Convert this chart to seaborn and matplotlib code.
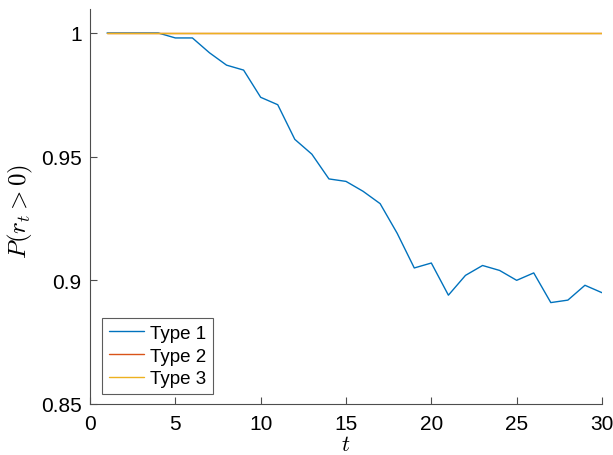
import numpy as np
import pandas as pd
import matplotlib
matplotlib.use("Agg")
import matplotlib.pyplot as plt
import seaborn as sns

t = list(range(1, 31))
type1 = [1.0, 1.0, 1.0, 1.0, 0.998, 0.998, 0.992, 0.987, 0.985, 0.974,
         0.971, 0.957, 0.951, 0.941, 0.940, 0.936, 0.931, 0.919, 0.905, 0.907,
         0.894, 0.902, 0.906, 0.904, 0.900, 0.903, 0.891, 0.892, 0.898, 0.895]
type2 = [1.0] * 30
type3 = [1.0] * 30
series_names = ["Type 1", "Type 2", "Type 3"]
colors = ["#0072BD", "#D95319", "#EDB120"]
xticks = [0, 5, 10, 15, 20, 25, 30]
yticks = [0.85, 0.9, 0.95, 1.0]
ytick_labels = ["0.85", "0.9", "0.95", "1"]

df = pd.DataFrame({
    "t": t * 3,
    "p": type1 + type2 + type3,
    "type": [n for n in series_names for _ in t],
})

sns.set_theme(style="white")
plt.rcParams["font.family"] = ["Liberation Sans", "DejaVu Sans"]
plt.rcParams["mathtext.fontset"] = "cm"
plt.rcParams["text.color"] = "black"

fig = plt.figure(figsize=(6.13, 4.56), dpi=100)
ax = fig.add_axes([90 / 613, 1 - 405 / 456, 512 / 613, 395 / 456])

sns.lineplot(data=df, x="t", y="p", hue="type", hue_order=series_names,
             palette=colors, linewidth=1.0, ax=ax)

ax.set_xlim(0, 30)
ax.set_ylim(0.85, 1.0097)
ax.set_xticks(xticks)
ax.set_xticklabels([str(v) for v in xticks])
ax.set_yticks(yticks)
ax.set_yticklabels(ytick_labels)

for side in ["top", "right"]:
    ax.spines[side].set_visible(False)
for side in ["left", "bottom"]:
    ax.spines[side].set_color("#4d4d4d")
    ax.spines[side].set_linewidth(0.8)
ax.tick_params(direction="in", length=5, width=0.8, color="#4d4d4d",
               labelsize=15, labelcolor="black", bottom=True, left=True)
ax.tick_params(axis="x", pad=7)
ax.tick_params(axis="y", pad=6)

ax.set_xlabel(r"$t$", fontsize=16, labelpad=1, color="black")
ax.set_ylabel(r"$P(r_t > 0)$", fontsize=18, color="black")
ax.yaxis.set_label_coords(-0.108, 0.49)

leg = ax.legend(loc="lower left", fontsize=13.5, frameon=True, fancybox=False,
                handlelength=1.9, handletextpad=0.3, borderpad=0.35,
                labelspacing=0.3, borderaxespad=0.0,
                bbox_to_anchor=(12 / 512, 10 / 395))
leg.get_frame().set_edgecolor("#333333")
leg.get_frame().set_linewidth(0.8)
for txt in leg.get_texts():
    txt.set_color("black")

fig.savefig("out.png", dpi=100)
